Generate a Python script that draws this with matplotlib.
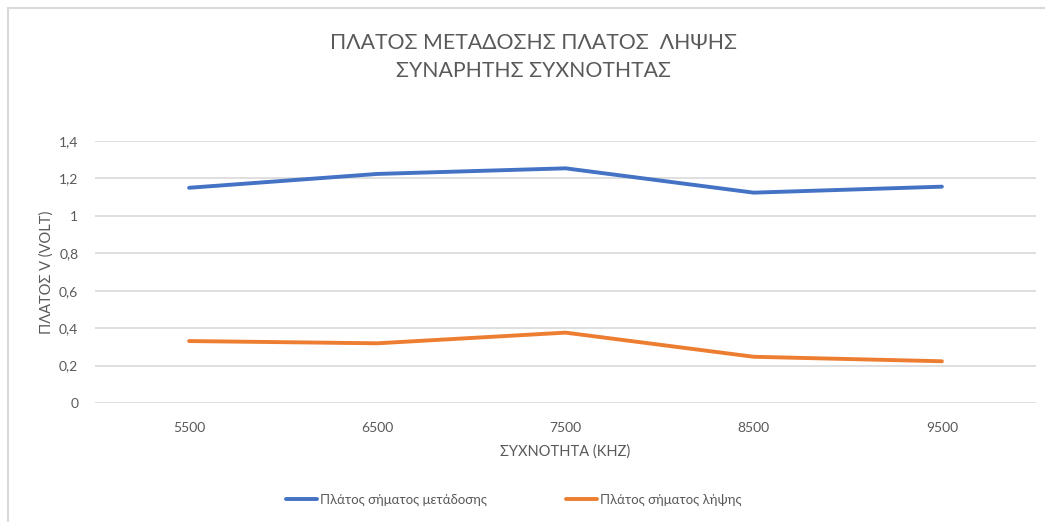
import matplotlib.pyplot as plt
from matplotlib.patches import Rectangle
from matplotlib.ticker import FuncFormatter, MultipleLocator

plt.rcParams['font.family'] = ['Lato', 'Open Sans', 'DejaVu Sans']

# frequency (kHz) and amplitudes (V)
freqs = ["5500", "6500", "7500", "8500", "9500"]
tx_amp = [1.15, 1.224, 1.254, 1.124, 1.156]
rx_amp = [0.331, 0.319, 0.376, 0.247, 0.223]

tx_label = "Πλάτος σήματος μετάδοσης"
rx_label = "Πλάτος σήματος λήψης"

GRAY = "#595959"


def main():
    fig = plt.figure(figsize=(10.45, 5.22), dpi=100)
    # light frame around the chart area
    fig.patches.append(Rectangle((8 / 1045, -0.1), 1.1, 1 - 8 / 522 + 0.1,
                                 transform=fig.transFigure, fill=False,
                                 edgecolor="#d9d9d9", linewidth=1.5))

    ax = fig.add_axes([95 / 1045, 1 - 403 / 522, (1036 - 95) / 1045, (403 - 141) / 522])
    x = range(len(freqs))
    ax.plot(x, tx_amp, color="#4472C4", linewidth=2.8, label=tx_label,
            solid_capstyle="round", solid_joinstyle="round")
    ax.plot(x, rx_amp, color="#ED7D31", linewidth=2.8, label=rx_label,
            solid_capstyle="round", solid_joinstyle="round")

    ax.set_xlim(-0.5, len(freqs) - 0.5)
    ax.set_ylim(0, 1.4)
    ax.set_xticks(list(x))
    ax.set_xticklabels(freqs)
    ax.yaxis.set_major_locator(MultipleLocator(0.2))
    ax.yaxis.set_major_formatter(FuncFormatter(lambda v, p: ("%g" % round(v, 1)).replace(".", ",")))
    ax.grid(axis="y", color="#d9d9d9", linewidth=1.2)
    ax.set_axisbelow(True)
    for s in ax.spines.values():
        s.set_visible(False)
    ax.tick_params(length=0, labelsize=10, labelcolor=GRAY)
    ax.tick_params(axis="x", pad=14)
    ax.tick_params(axis="y", pad=12)

    ax.set_xlabel("ΣΥΧΝΟΤΗΤΑ (KHZ)", fontsize=10.5, color=GRAY, labelpad=7)
    ax.set_ylabel("ΠΛΑΤΟΣ V (VOLT)", fontsize=10.5, color=GRAY, labelpad=4)

    fig.text(533 / 1045, 1 - 57 / 522, "ΠΛΑΤΟΣ ΜΕΤΑΔΟΣΗΣ ΠΛΑΤΟΣ  ΛΗΨΗΣ\nΣΥΝΑΡΗΤΗΣ ΣΥΧΝΟΤΗΤΑΣ",
             ha="center", va="center", fontsize=15.3, color=GRAY, linespacing=1.55)

    ax.legend(loc="center", bbox_to_anchor=(514 / 1045, 1 - 500 / 522),
              bbox_transform=fig.transFigure, ncol=2, frameon=False,
              fontsize=9.5, labelcolor=GRAY, handlelength=2.35, handletextpad=0.2,
              columnspacing=6.0)

    fig.savefig("out.png", dpi=100)


if __name__ == "__main__":
    main()
